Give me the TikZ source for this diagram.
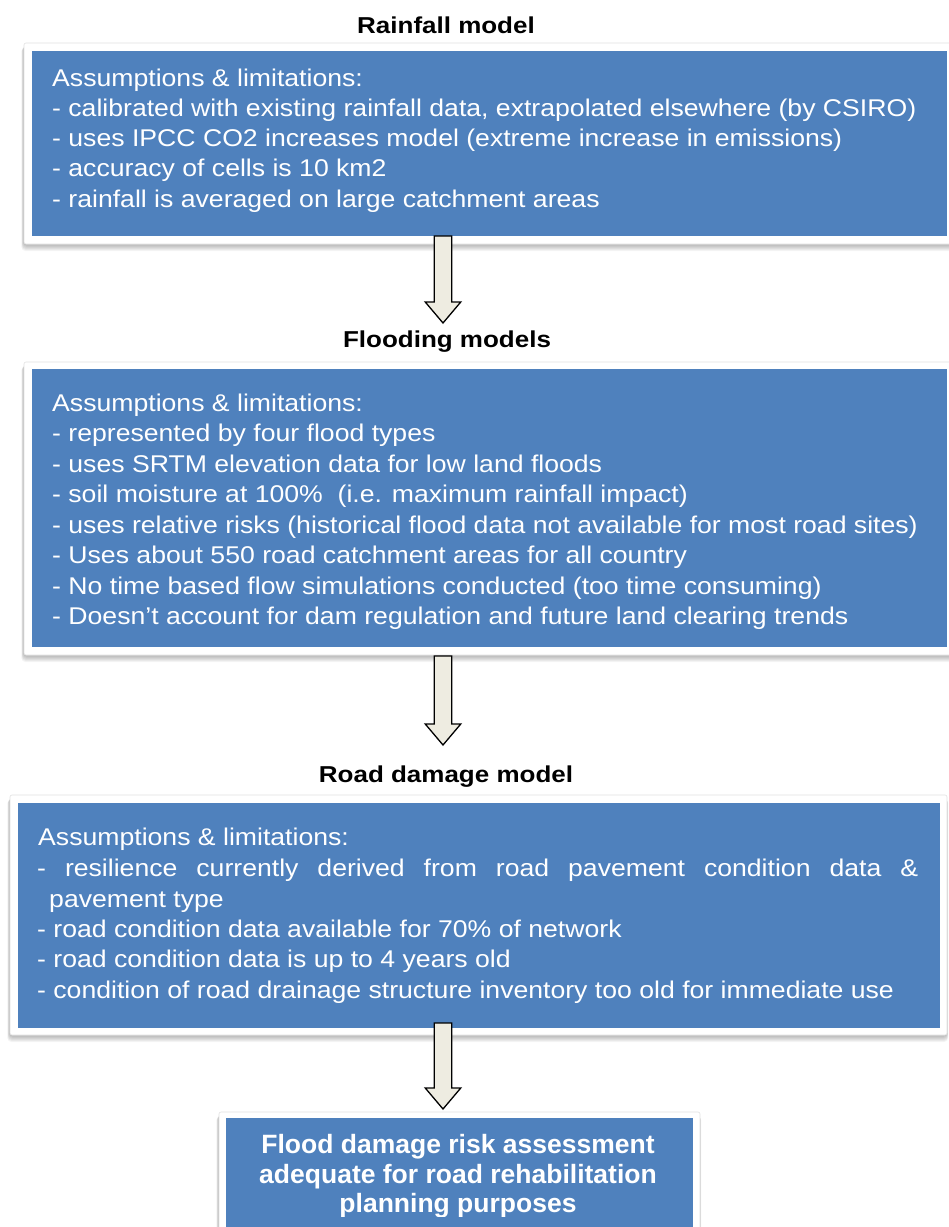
\documentclass[tikz,border=0pt]{standalone}
\usepackage{fontspec}
\setmainfont{Liberation Sans}
\newfontfamily\bodyfont{Liberation Sans}[FakeStretch=1.1]
\newfontfamily\titlefont{Liberation Sans}[FakeStretch=1.13]
\usetikzlibrary{calc}
\definecolor{boxblue}{HTML}{4F81BD}
\definecolor{arrowfill}{HTML}{EEECE1}
\definecolor{framegray}{HTML}{E2E2E2}
\newcommand\softshadow[4]{%
  \foreach \k in {1,...,6}{%
    \fill[black,opacity=0.045,rounded corners=4pt]
      (#1-0.5-\k*0.35,#2+2+\k*0.4) rectangle (#3+\k*0.2,#4+1+\k*1.0);}}
\newcommand\blockarr[2]{%
  \draw[blockarrow] ($(#1)+(-8.75,0)$) -- ($(#2)+(-8.75,-21)$)
    -- ($(#2)+(-17.75,-21)$) -- (#2) -- ($(#2)+(17.75,-21)$)
    -- ($(#2)+(8.75,-21)$) -- ($(#1)+(8.75,0)$) -- cycle;}
\begin{document}
\begin{tikzpicture}[x=1pt,y=-1pt,
  frame/.style={fill=white,draw=framegray,line width=0.6pt,rounded corners=2pt,
    anchor=north west,inner sep=0pt,outer sep=0pt},
  bluebox/.style={fill=boxblue,draw=none,anchor=north west,inner sep=0pt,outer sep=0pt},
  body/.style={anchor=base west,inner sep=0pt,text=white,font=\bodyfont\fontsize{24.2}{29}\selectfont},
  title/.style={anchor=base,inner sep=0pt,font=\titlefont\bfseries\fontsize{23}{28}\selectfont},
  final/.style={anchor=base,inner sep=0pt,text=white,font=\bfseries\fontsize{26.5}{30}\selectfont},
  blockarrow/.style={fill=arrowfill,draw=black,line width=1.3pt,line join=miter}
]
\useasboundingbox (0,0) rectangle (949,1227);
\fill[white] (0,0) rectangle (949,1227);

% ---------- Rainfall model ----------
\node[title] (t1) at (446,33) {Rainfall model};
\softshadow{24}{43}{955}{244}
\node[frame,minimum width=931pt,minimum height=201pt] (f1) at (24,43) {};
\node[bluebox,minimum width=915pt,minimum height=185pt] (b1) at (32,51) {};
\node[body] (b1l0) at (52,86)    {Assumptions \& limitations:};
\node[body] (b1l1) at (52,116.3) {- calibrated with existing rainfall data, extrapolated elsewhere (by CSIRO)};
\node[body] (b1l2) at (52,146.6) {- uses IPCC CO2 increases model (extreme increase in emissions)};
\node[body] (b1l3) at (52,176.9) {- accuracy of cells is 10 km2};
\node[body] (b1l4) at (52,207.2) {- rainfall is averaged on large catchment areas};

% ---------- Flooding models ----------
\node[title] (t2) at (447,347) {Flooding models};
\softshadow{24}{362}{955}{655}
\node[frame,minimum width=931pt,minimum height=293pt] (f2) at (24,362) {};
\node[bluebox,minimum width=915pt,minimum height=278pt] (b2) at (32,369) {};
\node[body] (b2l0) at (52,411)   {Assumptions \& limitations:};
\node[body] (b2l1) at (52,441.5) {- represented by four flood types};
\node[body] (b2l2) at (52,472)   {- uses SRTM elevation data for low land floods};
\node[body] (b2l3) at (52,502.5) {- soil moisture at 100\%\ \ (i.e. maximum rainfall impact)};
\node[body] (b2l4) at (52,533)   {- uses relative risks (historical flood data not available for most road sites)};
\node[body] (b2l5) at (52,563.5) {- Uses about 550 road catchment areas for all country};
\node[body] (b2l6) at (52,594)   {- No time based flow simulations conducted (too time consuming)};
\node[body] (b2l7) at (52,624.5) {- Doesn’t account for dam regulation and future land clearing trends};

% ---------- Road damage model ----------
\node[title] (t3) at (446,782) {Road damage model};
\softshadow{10}{795}{947}{1035}
\node[frame,minimum width=937pt,minimum height=240pt] (f3) at (10,795) {};
\node[bluebox,minimum width=922pt,minimum height=225pt] (b3) at (18,803) {};
\node[body] (b3l0) at (38,845) {Assumptions \& limitations:};
\node[body] (b3l1) at (37,876) {\makebox[881pt][s]{- resilience currently derived from road pavement condition data \&}};
\node[body] (b3l2) at (49,907) {pavement type};
\node[body] (b3l3) at (37,937) {- road condition data available for 70\% of network};
\node[body] (b3l4) at (37,967) {- road condition data is up to 4 years old};
\node[body] (b3l5) at (37,998) {- condition of road drainage structure inventory too old for immediate use};

% ---------- Final box ----------
\softshadow{219}{1112}{700}{1245}
\node[frame,minimum width=481pt,minimum height=130pt] (f4) at (219,1112) {};
\node[bluebox,minimum width=467pt,minimum height=125pt] (b4) at (226,1118) {};
\begin{scope}
  \clip (226,1118) rectangle (693,1216.5);
  \node[final] (b4l0) at (458,1153) {Flood damage risk assessment};
  \node[final] (b4l1) at (458,1183) {adequate for road rehabilitation};
  \node[final] (b4l2) at (458,1212) {planning purposes};
\end{scope}

% ---------- Arrows ----------
\coordinate (a1s) at (443,236);  \coordinate (a1e) at (443,323);
\coordinate (a2s) at (443,656);  \coordinate (a2e) at (443,745);
\coordinate (a3s) at (443,1023); \coordinate (a3e) at (443,1109);
\blockarr{a1s}{a1e}
\blockarr{a2s}{a2e}
\blockarr{a3s}{a3e}
\end{tikzpicture}
\end{document}
